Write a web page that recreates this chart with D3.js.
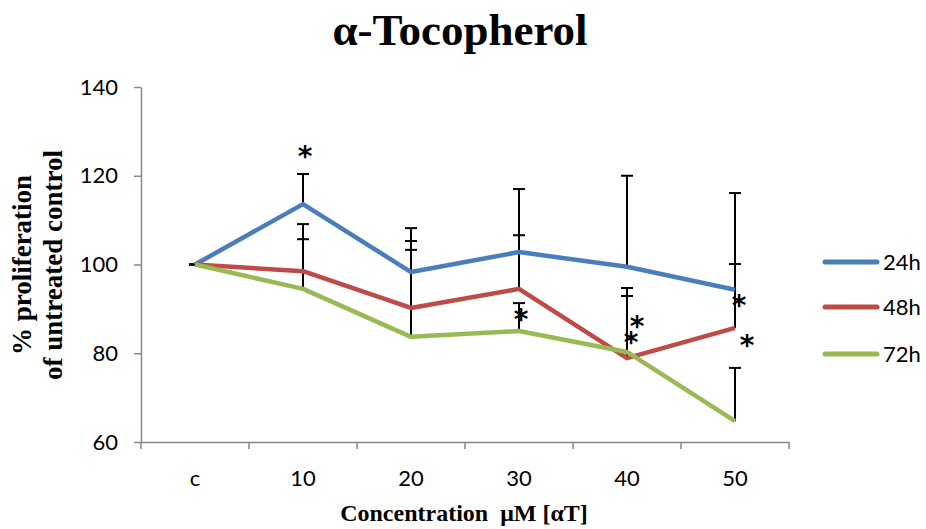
<!DOCTYPE html>
<html>
<head>
<meta charset="utf-8">
<script src="https://cdn.jsdelivr.net/npm/d3@7"></script>
<style>
  body { margin: 0; background: #fff; }
  .axis path, .axis line { stroke: #898989; stroke-width: 1.5; }
  .axis text { font-family: Lato, sans-serif; font-size: 22px; fill: #000; }
</style>
</head>
<body>
<div id="canvas"></div>
<script>
const categories = ["c", "10", "20", "30", "40", "50"];
const seriesNames = ["24h", "48h", "72h"];
const values24 = [100, 113.6, 98.3, 102.8, 99.5, 94.3];
const values48 = [100, 98.5, 90.2, 94.5, 78.9, 85.7];
const values72 = [100, 94.5, 83.7, 85.0, 80.3, 64.7];
// upper ends of the error bars
const upper24 = [100, 120.4, 108.2, 117.0, 120.0, 116.1];
const upper48 = [100, 109.1, 105.3, 106.6, 94.7, 100.1];
const upper72 = [100, 105.7, 103.3, 91.3, 92.9, 76.7];
const yTicks = [60, 80, 100, 120, 140];
// significance marks
const starCats = ["10", "30", "40", "40", "50", "50"];
const starVals = [124.9, 88.2, 86.6, 83.0, 91.3, 82.2];

const colors = ["#4a7ebb", "#be4b48", "#98b954"];

const width = 926;
const height = 529;
const margin = { top: 87, left: 141, bottom: 87, right: 137 };

const svg = d3.select("#canvas").append("svg")
  .attr("width", width)
  .attr("height", height);

const x = d3.scaleBand()
  .domain(categories)
  .range([margin.left, width - margin.right])
  .padding(0);
const y = d3.scaleLinear()
  .domain([60, 140])
  .range([height - margin.bottom, margin.top]);
const cx = c => x(c) + x.bandwidth() / 2;

const series = [
  { name: seriesNames[0], vals: values24, up: upper24, color: colors[0] },
  { name: seriesNames[1], vals: values48, up: upper48, color: colors[1] },
  { name: seriesNames[2], vals: values72, up: upper72, color: colors[2] }
];

// title
svg.append("text")
  .attr("x", 460).attr("y", 45)
  .attr("text-anchor", "middle")
  .style("font-family", "'Liberation Serif', 'Times New Roman', serif")
  .style("font-weight", "bold")
  .style("font-size", "45px")
  .text("α-Tocopherol");

// y axis
svg.append("g")
  .attr("class", "axis")
  .attr("transform", `translate(${margin.left},0)`)
  .call(d3.axisLeft(y).tickValues(yTicks).tickSize(7).tickPadding(16).tickSizeOuter(0));

// x axis: labels at centres, ticks at band edges
const xAxis = svg.append("g")
  .attr("class", "axis")
  .attr("transform", `translate(0,${y(60)})`);
xAxis.call(d3.axisBottom(x).tickSize(0).tickPadding(28).tickSizeOuter(0));
xAxis.selectAll(".edge")
  .data(categories.map(c => x(c)).concat([x.range()[1]]))
  .enter().append("line")
  .attr("class", "edge")
  .attr("x1", d => d).attr("x2", d => d)
  .attr("y1", 0).attr("y2", 7);

// error bars (under the lines)
series.forEach(s => {
  const eb = svg.append("g").attr("stroke", "#000").attr("stroke-width", 2);
  categories.forEach((c, i) => {
    eb.append("line")
      .attr("x1", cx(c)).attr("x2", cx(c))
      .attr("y1", y(s.vals[i])).attr("y2", y(s.up[i]));
    eb.append("line")
      .attr("x1", cx(c) - 6).attr("x2", cx(c) + 6)
      .attr("y1", y(s.up[i])).attr("y2", y(s.up[i]));
  });
});

// lines
const line = d3.line()
  .x((d, i) => cx(categories[i]))
  .y(d => y(d));
series.forEach(s => {
  svg.append("path")
    .datum(s.vals)
    .attr("fill", "none")
    .attr("stroke", s.color)
    .attr("stroke-width", 4.5)
    .attr("stroke-linejoin", "round")
    .attr("d", line);
});

// stars
const starShift = [2, 2, 10, 4, 4, 12];
svg.selectAll(".star")
  .data(starCats)
  .enter().append("text")
  .attr("class", "star")
  .attr("x", (c, i) => cx(c) + starShift[i])
  .attr("y", (c, i) => y(starVals[i]))
  .attr("dy", "0.42em")
  .attr("text-anchor", "middle")
  .style("font-family", "'DejaVu Sans', sans-serif")
  .style("font-weight", "bold")
  .style("font-size", "28px")
  .text("*");

// legend
const legend = svg.append("g");
const legendY = [262, 307, 354];
series.forEach((s, i) => {
  legend.append("line")
    .attr("x1", 825).attr("x2", 877)
    .attr("y1", legendY[i]).attr("y2", legendY[i])
    .attr("stroke", s.color)
    .attr("stroke-width", 5)
    .attr("stroke-linecap", "round");
  legend.append("text")
    .attr("x", 883).attr("y", legendY[i])
    .attr("dy", "0.36em")
    .style("font-family", "Lato, sans-serif")
    .style("font-size", "22px")
    .text(s.name);
});

// axis titles
svg.append("text")
  .attr("x", 464).attr("y", 521)
  .attr("text-anchor", "middle")
  .style("font-family", "'Liberation Serif', 'Times New Roman', serif")
  .style("font-weight", "bold")
  .style("font-size", "24px")
  .text("Concentration\u00a0\u00a0μM [αT]");

const yLab = svg.append("text")
  .attr("transform", "translate(0,265) rotate(-90)")
  .attr("text-anchor", "middle")
  .style("font-family", "'Liberation Serif', 'Times New Roman', serif")
  .style("font-weight", "bold")
  .style("font-size", "27px");
yLab.append("tspan").attr("x", 0).attr("y", 31).text("% proliferation");
yLab.append("tspan").attr("x", 0).attr("y", 62).text("of untreated control");
</script>
</body>
</html>
